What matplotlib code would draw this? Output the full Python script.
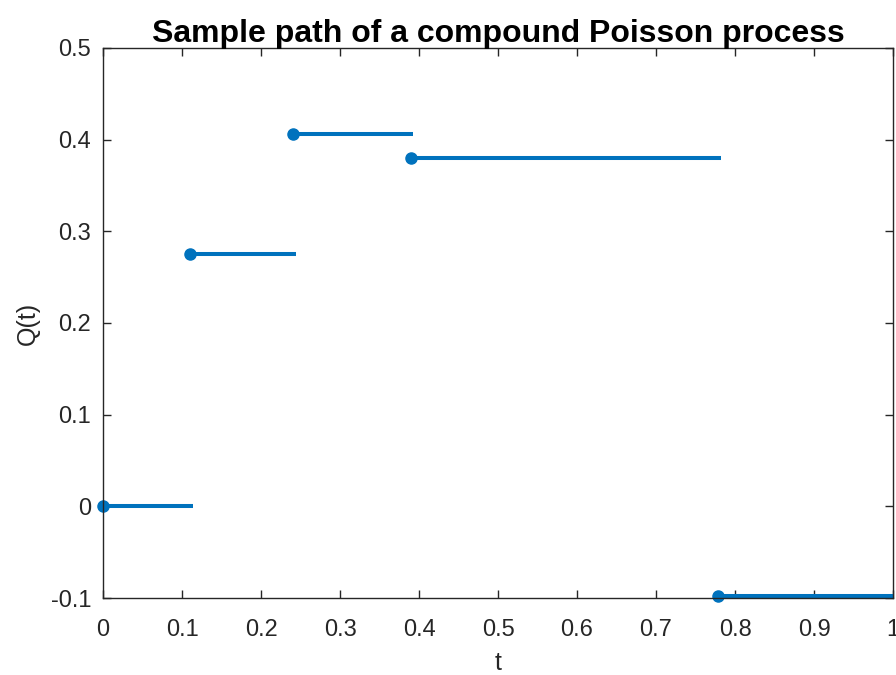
import numpy as np
import matplotlib.pyplot as plt

# jump times and values of the compound Poisson path
t_jump = [0.0, 0.110, 0.2405, 0.390, 0.7785]
t_end = [0.114, 0.244, 0.392, 0.782, 1.0]
q_val = [0.0, 0.2757, 0.4066, 0.3804, -0.0974]

xticks = [0, 0.1, 0.2, 0.3, 0.4, 0.5, 0.6, 0.7, 0.8, 0.9, 1]
xtick_labels = ['0', '0.1', '0.2', '0.3', '0.4', '0.5', '0.6', '0.7', '0.8', '0.9', '1']
yticks = [-0.1, 0, 0.1, 0.2, 0.3, 0.4, 0.5]
ytick_labels = ['-0.1', '0', '0.1', '0.2', '0.3', '0.4', '0.5']

blue = '#0072BD'
plt.rcParams['font.family'] = ['Liberation Sans', 'DejaVu Sans']

fig = plt.figure(figsize=(8.96, 6.75), dpi=100)
ax = fig.add_axes([0.115, 0.114, 0.8817, 0.815])

for t0, t1, q in zip(t_jump, t_end, q_val):
    ax.plot([t0, t1], [q, q], color=blue, lw=2.9, clip_on=False, solid_capstyle='butt')
    ax.plot(t0, q, 'o', color=blue, ms=8, clip_on=False)

ax.set_xlim(0, 1)
ax.set_ylim(-0.1, 0.5)
ax.set_xticks(xticks)
ax.set_xticklabels(xtick_labels)
ax.set_yticks(yticks)
ax.set_yticklabels(ytick_labels)
ax.tick_params(direction='in', length=6, width=1, colors='#262626', labelsize=17,
               top=True, right=True)
ax.tick_params(axis='x', pad=15)
ax.tick_params(axis='y', pad=8.5)
for s in ax.spines.values():
    s.set_color('#262626')
    s.set_linewidth(1)

ax.set_xlabel('t', fontsize=18, color='#262626', labelpad=7)
ax.set_ylabel('Q(t)', fontsize=18, color='#262626', labelpad=8)
ax.set_title('Sample path of a compound Poisson process', fontsize=23, fontweight='bold', pad=4.5)

fig.savefig('out.png', dpi=100)
